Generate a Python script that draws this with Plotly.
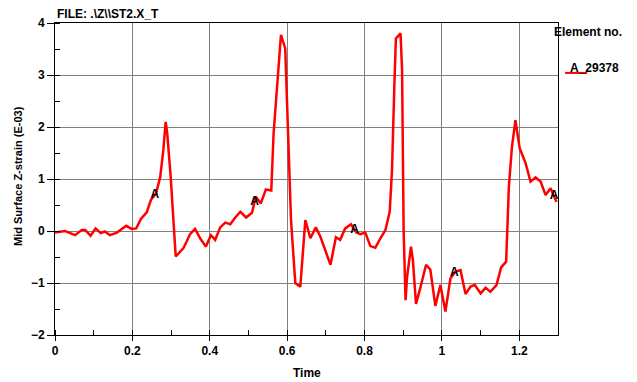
import numpy as np
import plotly.graph_objects as go

time = [0.0, 0.026, 0.052, 0.069, 0.078, 0.092, 0.105, 0.118, 0.129, 0.142, 0.16, 0.17, 0.184, 0.198,
        0.21, 0.222, 0.237, 0.248, 0.261, 0.272, 0.28, 0.286, 0.29, 0.299, 0.312, 0.332, 0.349, 0.362,
        0.375, 0.39, 0.403, 0.414, 0.427, 0.44, 0.453, 0.466, 0.479, 0.494, 0.509, 0.519, 0.532, 0.545,
        0.559, 0.565, 0.575, 0.584, 0.595, 0.604, 0.61, 0.621, 0.634, 0.647, 0.66, 0.674, 0.686, 0.712,
        0.726, 0.737, 0.75, 0.765, 0.779, 0.789, 0.802, 0.815, 0.828, 0.841, 0.854, 0.865, 0.871, 0.877,
        0.881, 0.893, 0.897, 0.901, 0.906, 0.91, 0.92, 0.925, 0.933, 0.944, 0.959, 0.97, 0.983, 0.996,
        1.009, 1.022, 1.035, 1.048, 1.061, 1.074, 1.085, 1.1, 1.113, 1.125, 1.141, 1.153, 1.166, 1.173,
        1.181, 1.19, 1.201, 1.216, 1.229, 1.242, 1.255, 1.268, 1.281, 1.296]
strain = [-0.03, 0.0, -0.08, 0.02, 0.02, -0.09, 0.05, -0.04, -0.01, -0.08, -0.03, 0.02, 0.1, 0.04,
          0.05, 0.23, 0.36, 0.6, 0.72, 1.04, 1.56, 2.1, 1.88, 1.04, -0.49, -0.33, -0.06, 0.04,
          -0.14, -0.3, -0.08, -0.17, 0.07, 0.16, 0.13, 0.26, 0.37, 0.26, 0.35, 0.66, 0.53, 0.8,
          0.78, 1.88, 2.9, 3.77, 3.51, 1.49, 0.21, -1.0, -1.07, 0.21, -0.14, 0.07, -0.11, -0.65,
          -0.12, -0.17, 0.05, 0.13, -0.03, -0.06, -0.03, -0.29, -0.32, -0.14, 0.02, 0.37, 1.17, 2.78,
          3.7, 3.8, 3.1, 0.02, -1.33, -0.88, -0.3, -0.56, -1.4, -1.1, -0.65, -0.74, -1.44, -1.04,
          -1.55, -0.91, -0.78, -0.75, -1.21, -1.07, -1.04, -1.2, -1.09, -1.17, -1.04, -0.7, -0.59, 0.85,
          1.62, 2.13, 1.59, 1.31, 0.95, 1.03, 0.95, 0.69, 0.82, 0.56]
marker_times = [0.258, 0.516, 0.774, 1.032, 1.29]
series_name = "A_29378"
marker_letter = "A"
x_ticks = [0, 0.2, 0.4, 0.6, 0.8, 1.0, 1.2]
x_tick_text = ["0", "0.2", "0.4", "0.6", "0.8", "1", "1.2"]
y_ticks = [-2, -1, 0, 1, 2, 3, 4]

marker_vals = np.interp(marker_times, time, strain)

FAM = "Liberation Sans, Arial, sans-serif"
font = dict(family=FAM, size=12, color="black", weight="bold")

fig = go.Figure()
fig.add_trace(go.Scatter(x=time, y=strain, mode="lines", name=series_name,
                         line=dict(color="#ff0000", width=2.5), showlegend=False))
fig.add_trace(go.Scatter(x=marker_times, y=marker_vals, mode="text",
                         text=[marker_letter] * len(marker_times), textposition="middle center",
                         textfont=dict(family=FAM, size=12, color="black", weight="bold"),
                         showlegend=False, cliponaxis=False))

# page body has an 8px default margin, so the margins are offset by 8px
fig.update_layout(
    width=637, height=382,
    margin=dict(l=47, r=87, t=15, b=55),
    paper_bgcolor="white", plot_bgcolor="white",
    font=font,
    showlegend=False,
)
fig.update_xaxes(
    range=[0, 1.3], tickvals=x_ticks, ticktext=x_tick_text,
    showgrid=True, gridcolor="#808080", gridwidth=1,
    showline=True, linecolor="black", linewidth=1, mirror=True,
    ticks="outside", ticklen=5, tickcolor="black",
    minor=dict(dtick=0.1, ticks="inside", ticklen=5, tickcolor="black", showgrid=False),
    zeroline=False, automargin=False,
    tickfont=font,
)
fig.update_yaxes(
    range=[-2, 4], tickvals=y_ticks,
    showgrid=True, gridcolor="#808080", gridwidth=1,
    showline=True, linecolor="black", linewidth=1, mirror=True,
    ticks="outside", ticklen=7, tickcolor="black",
    minor=dict(dtick=0.5, ticks="inside", ticklen=5, tickcolor="black", showgrid=False),
    zeroline=False, automargin=False,
    tickfont=font,
)
fig.add_annotation(text="Time", xref="paper", yref="paper", x=0.5, y=0,
                   xanchor="center", yanchor="middle", yshift=-38, showarrow=False, font=font)
fig.add_annotation(text="Mid Surface Z-strain (E-03)", xref="paper", yref="paper", x=0, y=0.5,
                   xanchor="center", yanchor="middle", xshift=-37, yshift=3, textangle=-90,
                   showarrow=False, font=dict(family=FAM, size=11, color="black"))
fig.add_annotation(text="FILE: .\\Z\\\\ST2.X_T", xref="paper", yref="paper", x=0, y=1,
                   xanchor="left", yanchor="bottom", yshift=0, showarrow=False, font=font)
fig.add_annotation(text="Element no.", xref="paper", yref="paper", x=1, y=0.97,
                   xanchor="left", yanchor="middle", xshift=-6, showarrow=False, font=font)
fig.add_annotation(text=series_name, xref="paper", yref="paper", x=1, y=0.855,
                   xanchor="left", yanchor="middle", xshift=10, showarrow=False, font=font)
fig.add_shape(type="line", xref="paper", yref="paper", x0=1.014, x1=1.058, y0=0.84, y1=0.84,
              line=dict(color="#ff0000", width=2))

fig.write_html("out.html")
